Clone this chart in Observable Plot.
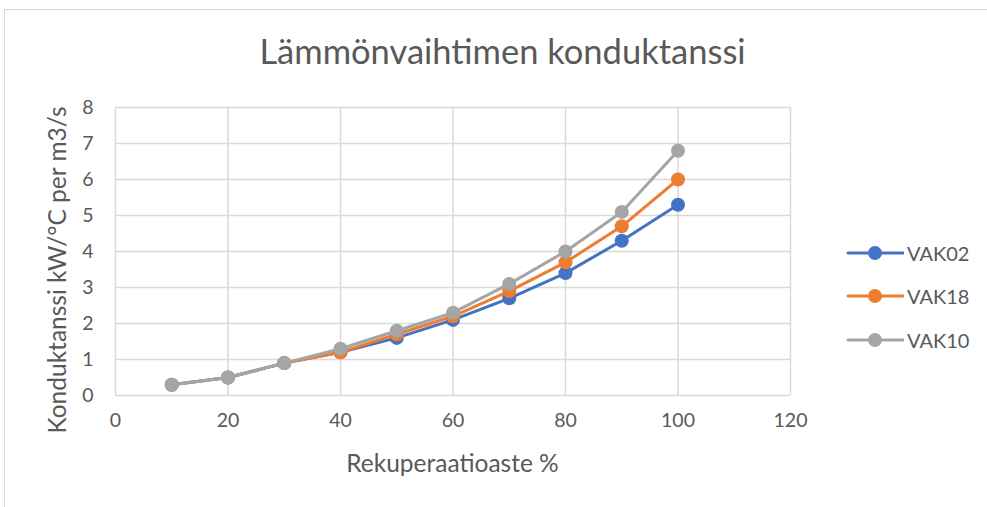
<!DOCTYPE html>
<html><head><meta charset="utf-8">
<script src="https://cdn.jsdelivr.net/npm/d3@7"></script>
<script src="https://cdn.jsdelivr.net/npm/@observablehq/plot@0.6"></script>
<style>
html,body{margin:0;padding:0;background:#fff;}
#wrap{position:relative;width:987px;height:507px;font-family:Lato,"Open Sans",sans-serif;color:#595959;overflow:hidden;}
#frame{position:absolute;left:4px;top:9px;width:990px;height:510px;border:1px solid #d9d9d9;box-sizing:border-box;}
#title{position:absolute;left:0;width:1005px;top:31px;text-align:center;font-size:34.5px;line-height:40px;white-space:nowrap;}
#xlab{position:absolute;left:115px;width:675px;top:448px;text-align:center;font-size:24.5px;line-height:30px;}
#ylab{position:absolute;left:57px;top:270px;transform:translate(-50%,-50%) rotate(-90deg);white-space:nowrap;font-size:24.5px;line-height:30px;}
#legend{position:absolute;left:846px;top:231px;}
.li{display:flex;align-items:center;height:43.5px;font-size:20px;}
.li svg{margin-right:3px;}
#chart{position:absolute;left:0;top:0;}
</style>
</head><body>
<div id="wrap">
<div id="frame"></div>
<div id="chart"></div>
<div id="title">Lämmönvaihtimen konduktanssi</div>
<div id="xlab">Rekuperaatioaste %</div>
<div id="ylab">Konduktanssi kW/°C per m3/s</div>
<div id="legend"></div>
</div>
<script>
const recovery = [10, 20, 30, 40, 50, 60, 70, 80, 90, 100];
const vak02 = [0.3, 0.5, 0.9, 1.2, 1.6, 2.1, 2.7, 3.4, 4.3, 5.3];
const vak18 = [0.3, 0.5, 0.9, 1.2, 1.7, 2.2, 2.9, 3.7, 4.7, 6.0];
const vak10 = [0.3, 0.5, 0.9, 1.3, 1.8, 2.3, 3.1, 4.0, 5.1, 6.8];
const seriesNames = ["VAK02", "VAK18", "VAK10"];
const seriesValues = [vak02, vak18, vak10];
const seriesColors = ["#4472C4", "#ED7D31", "#A5A5A5"];
const xTicks = [0, 20, 40, 60, 80, 100, 120];
const yTicks = [0, 1, 2, 3, 4, 5, 6, 7, 8];

const seriesMarks = [];
seriesNames.forEach((name, i) => {
  const rows = recovery.map((x, j) => ({x, y: seriesValues[i][j], series: name}));
  seriesMarks.push(Plot.line(rows, {x: "x", y: "y", stroke: seriesColors[i], strokeWidth: 3}));
  seriesMarks.push(Plot.dot(rows, {x: "x", y: "y", fill: seriesColors[i], r: 7, stroke: "none"}));
});

const chart = Plot.plot({
  width: 987, height: 507,
  marginLeft: 115, marginRight: 197, marginTop: 107, marginBottom: 112,
  style: {fontFamily: "Lato, 'Open Sans', sans-serif", fontSize: "19.5px", color: "#595959", background: "transparent", overflow: "visible"},
  x: {domain: [0, 120]},
  y: {domain: [0, 8]},
  marks: [
    Plot.gridX(xTicks, {stroke: "#d9d9d9", strokeOpacity: 1, strokeWidth: 1.5}),
    Plot.gridY(yTicks, {stroke: "#d9d9d9", strokeOpacity: 1, strokeWidth: 1.5}),
    Plot.axisX(xTicks, {tickSize: 0, tickPadding: 18, label: null, fill: "#595959", fontSize: 19.5}),
    Plot.axisY(yTicks, {tickSize: 0, tickPadding: 22, label: null, fill: "#595959", fontSize: 19.5}),
    ...seriesMarks
  ]
});
document.getElementById("chart").appendChild(chart);

const legend = document.getElementById("legend");
seriesNames.forEach((name, i) => {
  const d = document.createElement("div");
  d.className = "li";
  d.innerHTML = `<svg width="58" height="16"><line x1="2" x2="57" y1="8" y2="8" stroke="${seriesColors[i]}" stroke-width="3" stroke-linecap="round"/><circle cx="29" cy="8" r="7" fill="${seriesColors[i]}"/></svg><span>${name}</span>`;
  legend.appendChild(d);
});
</script>
</body></html>
